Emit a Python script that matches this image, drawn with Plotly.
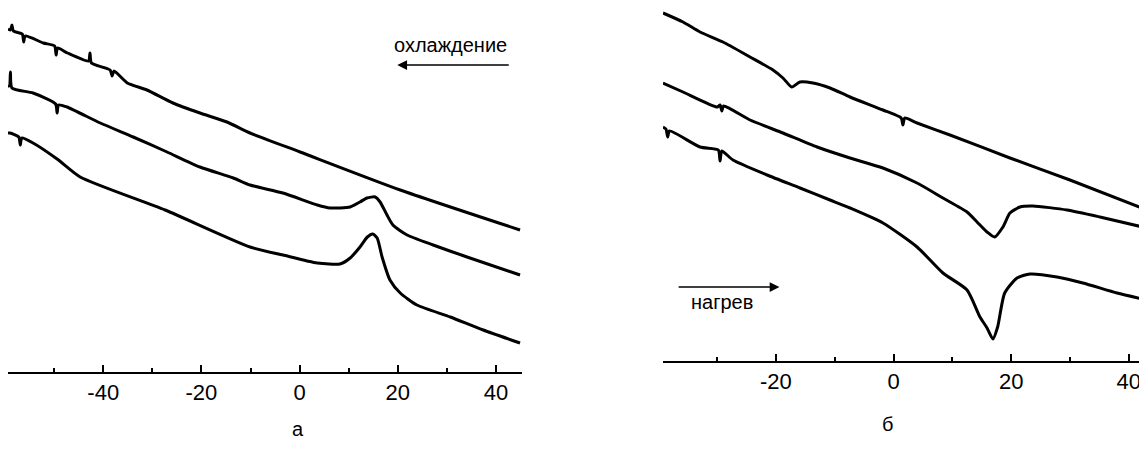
import plotly.graph_objects as go

# ---- Panel "а" (cooling), temperature in °C, signal in arbitrary units ----
a_top_T = [-59.4, -58.9, -58.6, -58.3, -56.5, -56.2, -55.9, -52.2, -49.9, -49.6, -49.3, -47.3, -43.0, -42.7, -42.4,
           -38.6, -38.2, -37.8, -35.1, -31.1, -25.8, -20.3, -14.8, -10.1, 0.1, 20.5, 44.9]
a_top_S = [3.43, 3.42, 3.47, 3.41, 3.38, 3.30, 3.36, 3.29, 3.26, 3.17, 3.24, 3.19, 3.11, 3.19, 3.09,
           3.02, 2.96, 3.01, 2.89, 2.82, 2.69, 2.59, 2.50, 2.39, 2.20, 1.82, 1.42]

a_mid_T = [-59.4, -59.1, -58.9, -58.6, -54.3, -49.7, -49.4, -49.1, -47.4, -40.6, -33.9, -27.0, -20.3, -13.5, -10.1,
           -3.4, 3.6, 6.2, 10.3, 12.3, 13.7, 15.4, 16.4, 17.8, 19.0, 21.9, 27.2, 34.1, 44.9]
a_mid_S = [2.86, 2.86, 3.00, 2.84, 2.79, 2.68, 2.59, 2.67, 2.65, 2.49, 2.35, 2.20, 2.05, 1.94, 1.87,
           1.79, 1.67, 1.64, 1.65, 1.70, 1.74, 1.75, 1.70, 1.57, 1.47, 1.37, 1.27, 1.15, 0.97]

a_bot_T = [-59.4, -59.0, -57.2, -56.9, -56.6, -54.3, -49.4, -44.7, -27.4, -10.1, -3.4, 3.6, 8.2, 10.3, 12.3, 13.8,
           14.9, 15.8, 16.8, 18.4, 20.5, 23.9, 30.7, 37.4, 44.9]
a_bot_S = [2.39, 2.39, 2.35, 2.27, 2.34, 2.29, 2.13, 1.95, 1.62, 1.25, 1.17, 1.09, 1.08, 1.14, 1.25, 1.35,
           1.38, 1.34, 1.15, 0.92, 0.79, 0.67, 0.55, 0.42, 0.29]

# ---- Panel "б" (heating) ----
b_top_T = [-39.2, -35.8, -32.9, -29.0, -24.4, -20.5, -18.8, -17.3, -15.9, -13.7, -10.8, -7.4, -1.8,
           1.3, 1.6, 1.9, 4.0, 9.6, 19.8, 30.0, 43.1]
b_top_S = [3.48, 3.39, 3.29, 3.19, 3.04, 2.91, 2.83, 2.74, 2.79, 2.78, 2.73, 2.64, 2.51,
           2.43, 2.36, 2.43, 2.38, 2.26, 2.03, 1.81, 1.51]

b_mid_T = [-39.2, -35.8, -30.0, -29.5, -29.2, -28.9, -24.4, -18.8, -13.0, -7.4, -1.8, 4.0, 8.4, 12.5, 14.2,
           15.9, 17.2, 18.6, 19.8, 21.5, 23.7, 29.5, 35.1, 43.1]
b_mid_S = [2.78, 2.69, 2.54, 2.56, 2.50, 2.55, 2.41, 2.28, 2.14, 2.03, 1.93, 1.78, 1.63, 1.49, 1.39,
           1.29, 1.24, 1.34, 1.48, 1.54, 1.55, 1.51, 1.44, 1.33]

b_bot_T = [-39.2, -38.7, -38.4, -38.1, -32.9, -29.8, -29.5, -29.2, -27.3, -21.5, -15.9, -10.8, -7.4, -1.8, 4.0,
           8.4, 12.5, 14.7, 15.9, 16.9, 17.7, 18.9, 21.0, 23.2, 27.8, 32.2, 38.0, 43.1]
b_bot_S = [2.34, 2.32, 2.24, 2.30, 2.14, 2.11, 2.00, 2.10, 2.01, 1.86, 1.73, 1.61, 1.53, 1.38, 1.14,
           0.88, 0.71, 0.44, 0.33, 0.22, 0.34, 0.68, 0.83, 0.87, 0.84, 0.78, 0.68, 0.61]

tick_vals = [-40, -20, 0, 20, 40]
tick_text = ["-40", "-20", "0", "20", "40"]

FONT = "Liberation Sans, Arial, sans-serif"
# page body has an 8 px margin; the figure is sized to fit inside it
W, H = 1139, 447
OFF = 8

fig = go.Figure()
line = dict(color="black", width=3, shape="spline", smoothing=0.6)
for T, S in [(a_top_T, a_top_S), (a_mid_T, a_mid_S), (a_bot_T, a_bot_S)]:
    fig.add_trace(go.Scatter(x=T, y=S, mode="lines", line=line, xaxis="x", yaxis="y", showlegend=False, hoverinfo="skip"))
for T, S in [(b_top_T, b_top_S), (b_mid_T, b_mid_S), (b_bot_T, b_bot_S)]:
    fig.add_trace(go.Scatter(x=T, y=S, mode="lines", line=line, xaxis="x2", yaxis="y2", showlegend=False, hoverinfo="skip"))

xcommon = dict(showline=True, linecolor="black", linewidth=2, ticks="inside", ticklen=7, tickwidth=2,
               tickcolor="black", tickvals=tick_vals, ticktext=tick_text, showgrid=False, zeroline=False,
               tickfont=dict(family=FONT, size=22, color="black"),
               minor=dict(ticks="inside", ticklen=4, tickwidth=2, tickcolor="black", dtick=10, tick0=0, showgrid=False))
fig.update_layout(
    width=W, height=H, margin=dict(l=0, r=0, t=0, b=0),
    paper_bgcolor="white", plot_bgcolor="white",
    xaxis=dict(domain=[(8 - OFF) / W, (522 - OFF) / W], range=[-59.4, 45.3], anchor="y", **xcommon),
    yaxis=dict(domain=[(H - (372 - OFF)) / H, 1.0], range=[0, (372 - OFF) / 100], visible=False, anchor="x"),
    xaxis2=dict(domain=[(663 - OFF) / W, 1.0], range=[-39.2, 43.1], anchor="y2", **xcommon),
    yaxis2=dict(domain=[(H - (361 - OFF)) / H, 1.0], range=[0, (361 - OFF) / 100], visible=False, anchor="x2"),
)

ann_font = dict(family=FONT, size=20, color="black")
fig.add_annotation(x=30.7, y=3.27, xref="x", yref="y", text="охлаждение", showarrow=False, font=ann_font)
fig.add_annotation(x=19.9, y=3.07, ax=42.9, ay=3.07, xref="x", yref="y", axref="x", ayref="y",
                   text="", showarrow=True, arrowhead=2, arrowsize=1.3, arrowwidth=1.5, arrowcolor="black")
fig.add_annotation(x=-29.2, y=0.59, xref="x2", yref="y2", text="нагрев", showarrow=False, font=ann_font)
fig.add_annotation(x=-19.4, y=0.74, ax=-36.8, ay=0.74, xref="x2", yref="y2", axref="x2", ayref="y2",
                   text="", showarrow=True, arrowhead=2, arrowsize=1.3, arrowwidth=1.5, arrowcolor="black")
fig.add_annotation(x=(290 - OFF) / W, y=1 - (442 - OFF) / H, xref="paper", yref="paper", text="а", showarrow=False, font=ann_font)
fig.add_annotation(x=(895 - OFF) / W, y=1 - (437 - OFF) / H, xref="paper", yref="paper", text="б", showarrow=False, font=ann_font)

fig.write_html("out.html")
